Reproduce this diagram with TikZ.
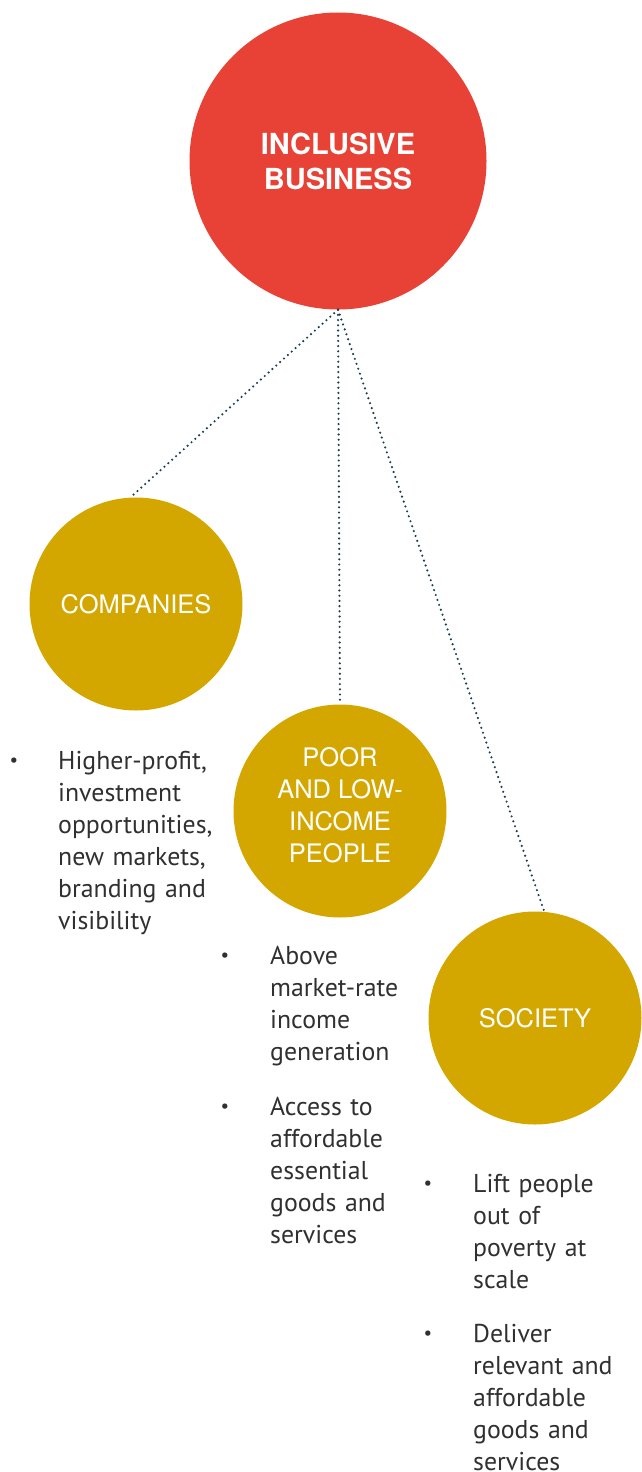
\documentclass[tikz,border=0pt]{standalone}
\usepackage{fontspec}
\setmainfont{PT Sans}
\newfontfamily\headfont{TeX Gyre Heros}
\definecolor{ibred}{HTML}{E84135}
\definecolor{gold}{HTML}{D4A700}
\definecolor{linkteal}{HTML}{1B3F4E}
\definecolor{bodygray}{HTML}{303030}
\begin{document}
\begin{tikzpicture}[x=1pt,y=-1pt,
  bigcircle/.style={circle,fill=ibred,minimum size=297pt,inner sep=0pt,text=white,
    align=center,font=\headfont\bfseries\fontsize{29}{35}\selectfont},
  groupcircle/.style={circle,fill=gold,minimum size=213pt,inner sep=0pt,text=white,
    align=center,font=\headfont\fontsize{25.5}{32}\selectfont},
  grouplabel/.style={inner sep=0pt,text=white,align=center,font=\headfont\fontsize{25.5}{32}\selectfont},
  link/.style={draw=linkteal,line width=2.4pt,line cap=round,dash pattern=on 0pt off 5.2pt},
  itemtext/.style={anchor=north west,inner sep=0pt,text width=220pt,align=left,
    text=bodygray,font=\fontsize{25.8}{32}\selectfont},
  bulletdot/.style={inner sep=0pt,text=bodygray,font=\fontsize{19}{19}\selectfont}
]
\useasboundingbox (0,0) rectangle (641,1472);

% central circle
\node[bigcircle] (ib) at (338,161) {INCLUSIVE\\BUSINESS};

% stakeholder circles
\node[groupcircle] (comp) at (136,604) {COMPANIES};
\node[groupcircle] (poor) at (340,811) {};
\node[grouplabel] (poorlab) at (340,805) {POOR\\AND LOW-\\INCOME\\PEOPLE};
\node[groupcircle] (soc) at (535,1018) {SOCIETY};

% dotted links
\draw[link] (ib.south) -- (comp.93);
\draw[link] (ib.south) -- (poor.north);
\draw[link] (ib.south) -- (soc.85);

% benefit lists
\node[bulletdot] (b1) at (14,762) {•};
\node[itemtext] (t1) at (58,746.6) {\strut Higher-profit,\\investment\\opportunities,\\new markets,\\branding and\\visibility};

\node[bulletdot] (b2) at (225,957) {•};
\node[itemtext] (t2) at (270,941.6) {\strut Above\\market-rate\\income\\generation};
\node[bulletdot] (b3) at (225,1108) {•};
\node[itemtext] (t3) at (270,1092.6) {\strut Access to\\affordable\\essential\\goods and\\services};

\node[bulletdot] (b4) at (428,1185) {•};
\node[itemtext] (t4) at (473,1169.6) {\strut Lift people\\out of\\poverty at\\scale};
\node[bulletdot] (b5) at (428,1335) {•};
\node[itemtext] (t5) at (473,1319.6) {\strut Deliver\\relevant and\\affordable\\goods and\\services};
\end{tikzpicture}
\end{document}
